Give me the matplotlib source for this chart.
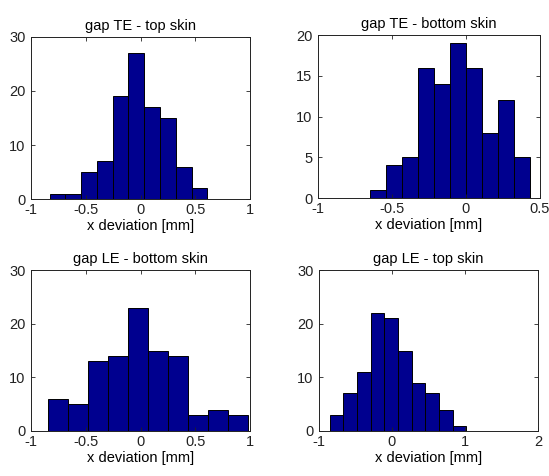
import numpy as np
import matplotlib
matplotlib.use("Agg")
import matplotlib.pyplot as plt

plt.rcParams['font.family'] = ['Liberation Sans', 'DejaVu Sans']
plt.rcParams['font.size'] = 10.5

titles = ["gap TE - top skin", "gap TE - bottom skin",
          "gap LE - bottom skin", "gap LE - top skin"]

# histogram counts (10 bins each) and the range the bins cover
counts_te_top = [1, 1, 5, 7, 19, 27, 17, 15, 6, 2]
range_te_top = (-0.83, 0.61)
counts_te_bottom = [1, 4, 5, 16, 14, 19, 16, 8, 12, 5]
range_te_bottom = (-0.65, 0.433)
counts_le_bottom = [6, 5, 13, 14, 23, 15, 14, 3, 4, 3]
range_le_bottom = (-0.842, 0.985)
counts_le_top = [3, 7, 11, 22, 21, 15, 9, 7, 4, 1]
range_le_top = (-0.854, 1.018)

xlims = [(-1, 1), (-1, 0.5), (-1, 1), (-1, 2)]
ylims = [(0, 30), (0, 20), (0, 30), (0, 30)]
xticks = [[-1, -0.5, 0, 0.5, 1], [-1, -0.5, 0, 0.5],
          [-1, -0.5, 0, 0.5, 1], [-1, 0, 1, 2]]
yticks = [[0, 10, 20, 30], [0, 5, 10, 15, 20],
          [0, 10, 20, 30], [0, 10, 20, 30]]

all_counts = [counts_te_top, counts_te_bottom, counts_le_bottom, counts_le_top]
all_ranges = [range_te_top, range_te_bottom, range_le_bottom, range_le_top]

W, H = 549, 476
# axes boxes in pixels: left, top, right, bottom
boxes = [(31, 37, 250, 199), (318, 35, 540, 198),
         (31, 270, 250, 431), (319, 270, 538, 431)]

fig = plt.figure(figsize=(W / 100, H / 100), dpi=100)

for i in range(4):
    l, t, r, b = boxes[i]
    ax = fig.add_axes([l / W, 1 - b / H, (r - l) / W, (b - t) / H])
    counts = all_counts[i]
    lo, hi = all_ranges[i]
    edges = np.linspace(lo, hi, len(counts) + 1)
    ax.bar(edges[:-1], counts, width=np.diff(edges), align='edge',
           color=(0, 0, 0.5625), edgecolor='black', linewidth=0.7)
    ax.set_xlim(*xlims[i])
    ax.set_ylim(*ylims[i])
    ax.set_xticks(xticks[i])
    ax.set_yticks(yticks[i])
    ax.set_xticklabels([f"{v:g}" for v in xticks[i]])
    ax.tick_params(direction='in', top=True, right=True, length=3,
                   width=0.6, labelsize=10.5, colors='#222222')
    ax.tick_params(axis='x', pad=3)
    ax.tick_params(axis='y', pad=4)
    for s in ax.spines.values():
        s.set_linewidth(0.7)
        s.set_color('#222222')
    ax.set_xlabel("x deviation [mm]", fontsize=10.5, labelpad=1)
    ax.set_title(titles[i], fontsize=10.5, pad=5)

fig.savefig("out.png", dpi=100)
